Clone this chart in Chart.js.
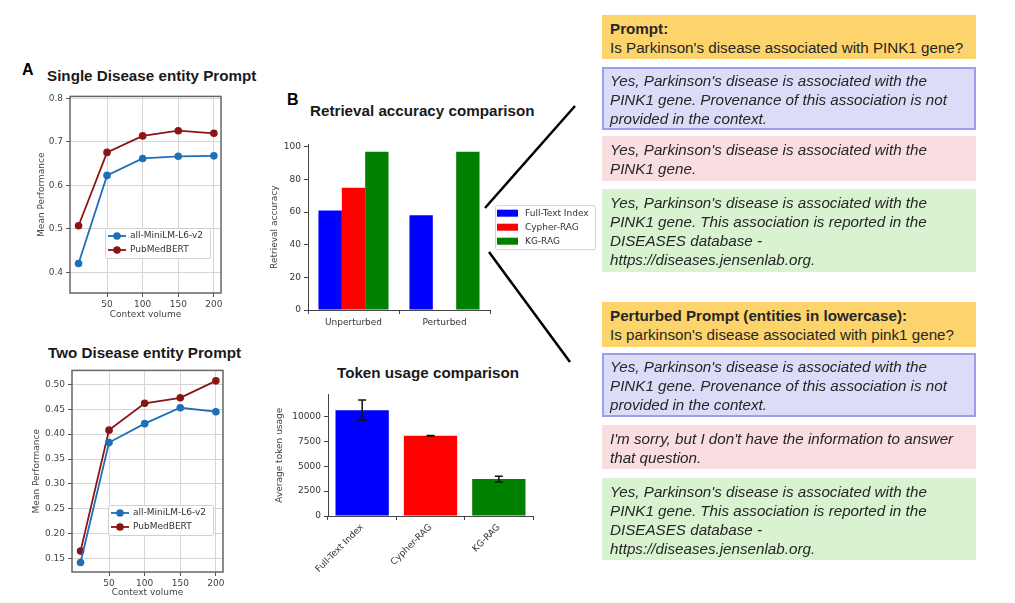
<!DOCTYPE html>
<html>
<head>
<meta charset="utf-8">
<script src="https://cdn.jsdelivr.net/npm/chart.js@4.4.1/dist/chart.umd.min.js"></script>
<style>
  body { margin: 0; background: #fff; }
  #page { position: relative; width: 1015px; height: 603px; overflow: hidden; font-family: "Liberation Sans", Arial, sans-serif; }
  .cv { position: absolute; }
  .title { position: absolute; font-weight: bold; font-size: 15.2px; line-height: 15.2px; color: #1a1a1a; white-space: nowrap; }
  .tag { position: absolute; font-weight: bold; font-size: 16px; line-height: 16px; color: #000; }
  .box { position: absolute; left: 602px; width: 374px; box-sizing: border-box; padding: 4px 8px; font-size: 15.2px; line-height: 19px; color: #262626; white-space: nowrap; }
  .prompt { background: #fdd36c; }
  .blue { background: #dcdcf8; border: 2px solid #9d9def; padding: 2px 6px; }
  .pink { background: #f9dde0; }
  .green { background: #d9f2d0; }
  .it { font-style: italic; }
</style>
</head>
<body>
<div id="page">
  <div class="tag" style="left:22px;top:62px">A</div>
  <div class="tag" style="left:287px;top:92px">B</div>

  <div class="title" style="left:47px;top:68px">Single Disease entity Prompt</div>
  <div class="title" style="left:48px;top:345px">Two Disease entity Prompt</div>
  <div class="title" style="left:310px;top:103px">Retrieval accuracy comparison</div>
  <div class="title" style="left:337px;top:365px">Token usage comparison</div>

  <div class="cv" style="left:10px;top:88px"><canvas id="single" width="225" height="240"></canvas></div>
  <div class="cv" style="left:10px;top:362px"><canvas id="two" width="235" height="241"></canvas></div>
  <div class="cv" style="left:262px;top:136px"><canvas id="retrieval" width="340" height="199"></canvas></div>
  <div class="cv" style="left:262px;top:386px"><canvas id="tokens" width="280" height="204"></canvas></div>

  <svg style="position:absolute;left:0;top:0" width="1015" height="603">
    <line x1="485" y1="208" x2="575" y2="106" stroke="#000" stroke-width="2.5"/>
    <line x1="489" y1="252" x2="570" y2="362" stroke="#000" stroke-width="2.5"/>
  </svg>

  <div class="box prompt" style="top:15px;height:44px"><b>Prompt:</b><br>Is Parkinson's disease associated with PINK1 gene?</div>
  <div class="box blue it" style="top:67px;height:63px">Yes, Parkinson's disease is associated with the<br>PINK1 gene. Provenance of this association is not<br>provided in the context.</div>
  <div class="box pink it" style="top:136px;height:45px">Yes, Parkinson's disease is associated with the<br>PINK1 gene.</div>
  <div class="box green it" style="top:189px;height:83px">Yes, Parkinson's disease is associated with the<br>PINK1 gene. This association is reported in the<br>DISEASES database -<br>https://diseases.jensenlab.org.</div>

  <div class="box prompt" style="top:302px;height:45px"><b>Perturbed Prompt (entities in lowercase):</b><br>Is parkinson's disease associated with pink1 gene?</div>
  <div class="box blue it" style="top:353px;height:64px">Yes, Parkinson's disease is associated with the<br>PINK1 gene. Provenance of this association is not<br>provided in the context.</div>
  <div class="box pink it" style="top:425px;height:44px">I'm sorry, but I don't have the information to answer<br>that question.</div>
  <div class="box green it" style="top:478px;height:82px">Yes, Parkinson's disease is associated with the<br>PINK1 gene. This association is reported in the<br>DISEASES database -<br>https://diseases.jensenlab.org.</div>
</div>

<script>
// --- data ---
const contextVolume = [10, 50, 100, 150, 200];
const singleMiniLM = [0.420, 0.623, 0.662, 0.667, 0.668];
const singlePubMed = [0.507, 0.676, 0.714, 0.726, 0.720];
const twoMiniLM = [0.142, 0.383, 0.421, 0.453, 0.445];
const twoPubMed = [0.165, 0.408, 0.462, 0.473, 0.507];
const volumeTicks = [50, 100, 150, 200];
const singleTicks = [0.4, 0.5, 0.6, 0.7, 0.8];
const twoTicks = [0.15, 0.20, 0.25, 0.30, 0.35, 0.40, 0.45, 0.50];

const retrievalGroups = ['Unperturbed', 'Perturbed'];
const fullTextAcc = [61, 58];
const cypherAcc = [75, 0];
const kgAcc = [97, 97];
const accTicks = [0, 20, 40, 60, 80, 100];

const methods = ['Full-Text Index', 'Cypher-RAG', 'KG-RAG'];
const tokenMean = [10620, 8040, 3700];
const tokenErr = [1020, 25, 300];
const tokenTicks = [0, 2500, 5000, 7500, 10000];

const blue = '#1f6fb8', darkred = '#8b1515';
const tickFont = { family: 'DejaVu Sans', size: 9 };

// box round the plot area (matplotlib style)
const frame = {
  id: 'frame',
  afterDraw(chart, args, opts) {
    if (!opts.on) return;
    const { ctx, chartArea: a } = chart;
    ctx.save();
    ctx.strokeStyle = '#666';
    ctx.lineWidth = 1.5;
    ctx.strokeRect(a.left, a.top, a.right - a.left, a.bottom - a.top);
    ctx.restore();
  }
};

// legend drawn in a small box at a chosen place
const boxLegend = {
  id: 'boxLegend',
  afterDraw(chart, args, opts) {
    if (!opts.place) return;
    const { ctx, chartArea: a } = chart;
    const sets = chart.data.datasets;
    const w = opts.width, h = opts.rowH * sets.length + 2;
    const p = opts.place(a, w, h);
    ctx.save();
    ctx.fillStyle = 'rgba(255,255,255,0.9)';
    ctx.strokeStyle = '#d0d0d0';
    ctx.lineWidth = 1;
    ctx.beginPath();
    ctx.roundRect(p.x + 0.5, p.y + 0.5, w, h, 2);
    ctx.fill();
    ctx.stroke();
    ctx.font = '9px "DejaVu Sans"';
    ctx.textBaseline = 'middle';
    sets.forEach((ds, i) => {
      const cy = p.y + 1 + opts.rowH * (i + 0.5);
      if (opts.kind === 'line') {
        ctx.strokeStyle = ds.borderColor;
        ctx.lineWidth = 1.8;
        ctx.beginPath();
        ctx.moveTo(p.x + 3, cy);
        ctx.lineTo(p.x + 21, cy);
        ctx.stroke();
        ctx.fillStyle = ds.borderColor;
        ctx.beginPath();
        ctx.arc(p.x + 12, cy, 3.8, 0, Math.PI * 2);
        ctx.fill();
        ctx.fillStyle = '#333';
        ctx.fillText(ds.label, p.x + 25, cy);
      } else {
        ctx.fillStyle = ds.backgroundColor;
        ctx.fillRect(p.x + 2, cy - 3.5, 21, 7);
        ctx.fillStyle = '#333';
        ctx.fillText(ds.label, p.x + 30, cy);
      }
    });
    ctx.restore();
  }
};

// error bars for the token chart
const errorBars = {
  id: 'errorBars',
  afterDatasetsDraw(chart) {
    const { ctx } = chart;
    const y = chart.scales.y;
    chart.data.datasets.forEach((ds, di) => {
      if (!ds.errors) return;
      chart.getDatasetMeta(di).data.forEach((bar, i) => {
        const top = y.getPixelForValue(ds.data[i] + ds.errors[i]);
        const bot = y.getPixelForValue(ds.data[i] - ds.errors[i]);
        ctx.save();
        ctx.strokeStyle = '#111';
        ctx.lineWidth = 1.5;
        ctx.beginPath();
        ctx.moveTo(bar.x, top); ctx.lineTo(bar.x, bot);
        ctx.moveTo(bar.x - 4, top); ctx.lineTo(bar.x + 4, top);
        ctx.moveTo(bar.x - 4, bot); ctx.lineTo(bar.x + 4, bot);
        ctx.stroke();
        ctx.restore();
      });
    });
  }
};

Chart.register(frame, boxLegend, errorBars);

function lineChart(id, mini, pub, yTicks, yMin, yMax, digits, cfg) {
  const pts = arr => arr.map((v, i) => ({ x: contextVolume[i], y: v }));
  new Chart(document.getElementById(id), {
    type: 'line',
    data: {
      datasets: [
        { label: 'all-MiniLM-L6-v2', data: pts(mini), borderColor: blue, backgroundColor: blue,
          borderWidth: 1.8, pointRadius: 3.8, pointBorderWidth: 0, tension: 0 },
        { label: 'PubMedBERT', data: pts(pub), borderColor: darkred, backgroundColor: darkred,
          borderWidth: 1.8, pointRadius: 3.8, pointBorderWidth: 0, tension: 0 }
      ]
    },
    options: {
      responsive: false,
      animation: false,
      layout: { padding: { top: 6, right: cfg.padRight, left: 0, bottom: 0 } },
      plugins: {
        legend: { display: false },
        tooltip: { enabled: false },
        frame: { on: true },
        boxLegend: { kind: 'line', width: 105, rowH: 14,
          place: (a, w, h) => ({ x: a.right - cfg.legRight - w, y: a.bottom - cfg.legBottom - h }) }
      },
      scales: {
        x: {
          type: 'linear', min: -2, max: 210,
          afterBuildTicks: s => { s.ticks = volumeTicks.map(v => ({ value: v })); },
          afterFit: s => { s.height = cfg.xH; },
          grid: { color: '#d6d6d6', tickColor: '#555', tickLength: 4 },
          border: { display: false },
          ticks: { font: tickFont, color: '#444', padding: 2, maxRotation: 0 },
          title: { display: true, text: 'Context volume', font: tickFont, color: '#444',
            padding: { top: 0, bottom: cfg.xTitlePad } }
        },
        y: {
          min: yMin, max: yMax,
          afterBuildTicks: s => { s.ticks = yTicks.map(v => ({ value: v })); },
          afterFit: s => { s.width = cfg.yW; },
          grid: { color: '#d6d6d6', tickColor: '#555', tickLength: 4 },
          border: { display: false },
          ticks: { font: tickFont, color: '#444', padding: 3, callback: v => v.toFixed(digits) },
          title: { display: true, text: 'Mean Performance', font: tickFont, color: '#444',
            padding: { top: cfg.yTitlePad, bottom: 0 } }
        }
      }
    }
  });
}

lineChart('single', singleMiniLM, singlePubMed, singleTicks, 0.352, 0.805, 1,
  { padRight: 14, yW: 60, xH: 35, yTitlePad: 26.6, xTitlePad: 7.6, legRight: 11, legBottom: 35 });
lineChart('two', twoMiniLM, twoPubMed, twoTicks, 0.123, 0.528, 2,
  { padRight: 22, yW: 62, xH: 31, yTitlePad: 21.6, xTitlePad: 4.6, legRight: 10, legBottom: 37 });

const spineAxis = { color: '#444', tickColor: '#444', tickLength: 4, drawOnChartArea: false };

new Chart(document.getElementById('retrieval'), {
  type: 'bar',
  data: {
    labels: retrievalGroups,
    datasets: [
      { label: 'Full-Text Index', data: fullTextAcc, backgroundColor: '#0000ff' },
      { label: 'Cypher-RAG', data: cypherAcc, backgroundColor: '#ff0000' },
      { label: 'KG-RAG', data: kgAcc, backgroundColor: '#008000' }
    ]
  },
  options: {
    responsive: false,
    animation: false,
    categoryPercentage: 0.77,
    barPercentage: 1,
    layout: { padding: { top: 6, right: 112, left: 0, bottom: 0 } },
    plugins: {
      legend: { display: false },
      tooltip: { enabled: false },
      boxLegend: { kind: 'bar', width: 100, rowH: 14,
        place: (a, w, h) => ({ x: a.right + 5, y: (a.top + a.bottom) / 2 - h / 2 }) }
    },
    scales: {
      x: {
        afterFit: s => { s.height = 25; },
        grid: spineAxis,
        border: { display: true, color: '#444', width: 1 },
        ticks: { font: tickFont, color: '#333', padding: 3, maxRotation: 0 }
      },
      y: {
        min: 0, max: 101.5,
        afterBuildTicks: s => { s.ticks = accTicks.map(v => ({ value: v })); },
        afterFit: s => { s.width = 46; },
        grid: spineAxis,
        border: { display: true, color: '#444', width: 1 },
        ticks: { font: tickFont, color: '#333', padding: 3 },
        title: { display: true, text: 'Retrieval accuracy', font: tickFont, color: '#444',
          padding: { top: 7.6, bottom: 0 } }
      }
    }
  }
});

new Chart(document.getElementById('tokens'), {
  type: 'bar',
  data: {
    labels: methods,
    datasets: [
      { label: 'Average token usage', data: tokenMean, errors: tokenErr,
        backgroundColor: ['#0000ff', '#ff0000', '#008000'] }
    ]
  },
  options: {
    responsive: false,
    animation: false,
    categoryPercentage: 1,
    barPercentage: 0.78,
    layout: { padding: { top: 6, right: 9, left: 0, bottom: 0 } },
    plugins: { legend: { display: false }, tooltip: { enabled: false } },
    scales: {
      x: {
        afterFit: s => { s.height = 74; },
        grid: spineAxis,
        border: { display: true, color: '#444', width: 1 },
        ticks: { font: tickFont, color: '#333', padding: 2, minRotation: 45, maxRotation: 45 }
      },
      y: {
        min: 0, max: 12200,
        afterBuildTicks: s => { s.ticks = tokenTicks.map(v => ({ value: v })); },
        afterFit: s => { s.width = 66; },
        grid: spineAxis,
        border: { display: true, color: '#444', width: 1 },
        ticks: { font: tickFont, color: '#333', padding: 3, callback: v => String(v) },
        title: { display: true, text: 'Average token usage', font: tickFont, color: '#444',
          padding: { top: 12.6, bottom: 0 } }
      }
    }
  }
});
</script>
</body>
</html>
